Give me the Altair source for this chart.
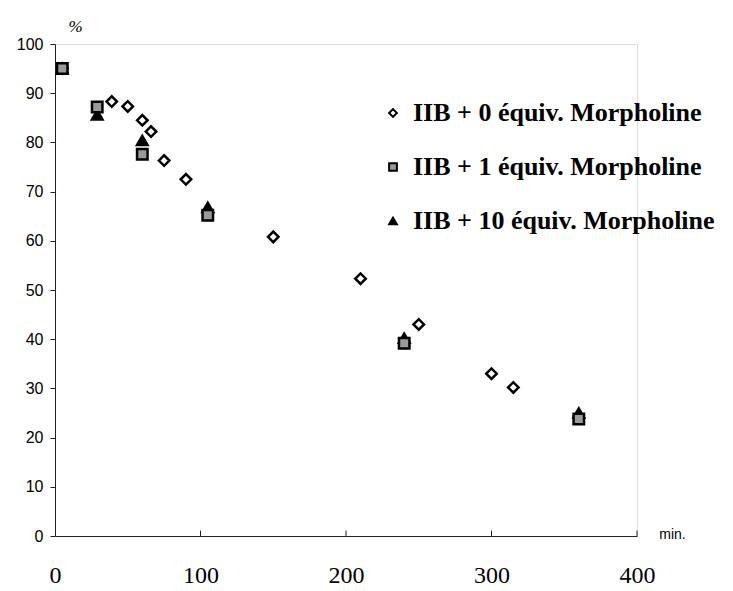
import altair as alt
import pandas as pd

series = ["IIB + 0 équiv. Morpholine", "IIB + 1 équiv. Morpholine", "IIB + 10 équiv. Morpholine"]

t0 = [5, 39, 50, 60, 66, 75, 90, 150, 210, 250, 300, 315]
v0 = [95, 88.3, 87.3, 84.5, 82.2, 76.3, 72.5, 60.8, 52.3, 43, 33, 30.2]

t1 = [5, 29, 60, 105, 240, 360]
v1 = [95, 87.2, 77.6, 65.2, 39.2, 23.8]

t2 = [5, 29, 60, 105, 240, 360]
v2 = [95, 85.6, 80.4, 66.8, 40.2, 25]

x_ticks = [0, 100, 200, 300, 400]
inner_ticks = [100, 200, 300, 400]
y_ticks = list(range(0, 101, 10))

rows = []
for name, xs, ys in [(series[0], t0, v0), (series[2], t2, v2), (series[1], t1, v1)]:
    for x, y in zip(xs, ys):
        rows.append({"t": x, "v": y, "s": name})
df = pd.DataFrame(rows)

tick_df = pd.DataFrame({"t": inner_ticks, "y0": [0] * len(inner_ticks), "y1": [1.1] * len(inner_ticks)})

xscale = alt.Scale(domain=[0, 400], nice=False, zero=False)
yscale = alt.Scale(domain=[0, 100], nice=False, zero=False)

legend = alt.Legend(
    title=None, orient="none", legendX=325, legendY=56,
    labelFont="Liberation Serif", labelFontSize=26, labelFontWeight="bold",
    labelColor="black", labelLimit=500, rowPadding=28, symbolSize=60,
    symbolStrokeWidth=2, labelOffset=7,
)

xaxis = alt.Axis(
    values=x_ticks, ticks=False, grid=False, domainColor="#222", domainWidth=1,
    labelFont="Liberation Serif", labelFontSize=24, labelColor="black",
    labelPadding=27, labelFlush=False,
    title="min.", titleFont="Liberation Sans", titleFontSize=14,
    titleFontWeight="normal", titleColor="black", titleX=617, titleY=-2,
    titleAlign="center", titleBaseline="middle",
)
yaxis = alt.Axis(
    values=y_ticks, grid=False, domainColor="#222", domainWidth=1,
    tickColor="#222", tickSize=5, labelFont="Liberation Sans", labelFontSize=16,
    labelColor="black", labelPadding=7, labelFlush=False,
    title="%", titleAngle=0, titleFont="Liberation Serif", titleFontStyle="italic",
    titleFontSize=17, titleFontWeight="normal", titleColor="black",
    titleX=20, titleY=-18, titleAlign="center", titleBaseline="middle",
)

points = alt.Chart(df).mark_point(
    filled=True, strokeWidth=2.5, opacity=1, size=110
).encode(
    x=alt.X("t:Q", scale=xscale, axis=xaxis),
    y=alt.Y("v:Q", scale=yscale, axis=yaxis),
    shape=alt.Shape("s:N", scale=alt.Scale(domain=series, range=["diamond", "square", "triangle-up"]), legend=legend),
    fill=alt.Fill("s:N", scale=alt.Scale(domain=series, range=["white", "#9a9a9a", "black"]), legend=legend),
    stroke=alt.Stroke("s:N", scale=alt.Scale(domain=series, range=["black", "black", "black"]), legend=legend),
)

ticks = alt.Chart(tick_df).mark_rule(color="#222", strokeWidth=1).encode(
    x=alt.X("t:Q", scale=xscale),
    y=alt.Y("y0:Q", scale=yscale),
    y2="y1:Q",
)

chart = alt.layer(points, ticks).properties(
    width=582, height=492,
    autosize=alt.AutoSizeParams(type="none"),
    padding={"left": 47, "top": 36, "right": 88, "bottom": 54},
).configure_view(stroke=None).configure(background="white")

chart.save("out.html", embed_options={"renderer": "svg", "actions": False})
